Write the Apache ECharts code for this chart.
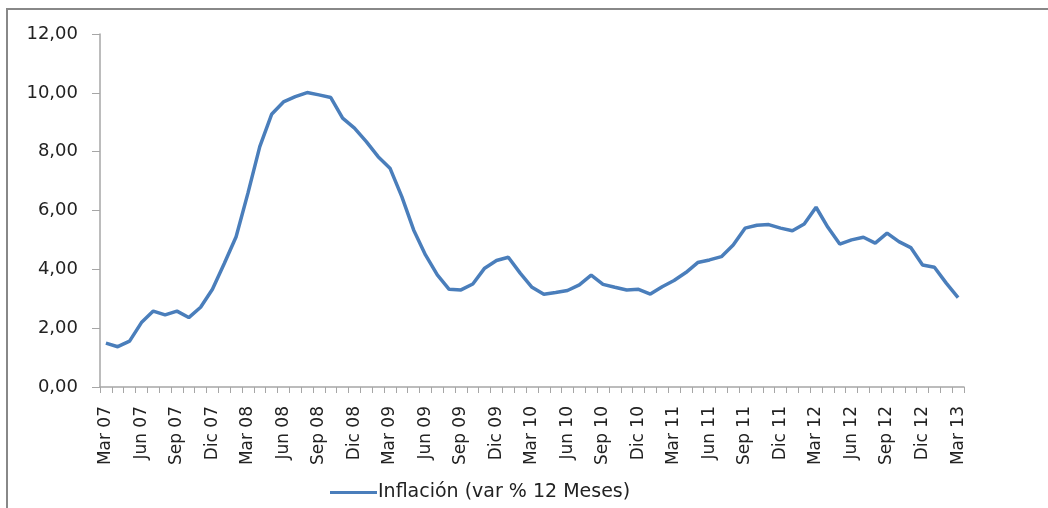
<!DOCTYPE html>
<html>
<head>
<meta charset="utf-8">
<script src="https://cdn.jsdelivr.net/npm/echarts@6/dist/echarts.min.js"></script>
<style>
html,body{margin:0;padding:0;background:#fff;}
#c{width:1048px;height:508px;}
</style>
</head>
<body>
<div id="c"></div>
<script>
const categories = [
 'Mar 07','Abr 07','May 07','Jun 07','Jul 07','Ago 07','Sep 07','Oct 07','Nov 07','Dic 07','Ene 08','Feb 08',
 'Mar 08','Abr 08','May 08','Jun 08','Jul 08','Ago 08','Sep 08','Oct 08','Nov 08','Dic 08','Ene 09','Feb 09',
 'Mar 09','Abr 09','May 09','Jun 09','Jul 09','Ago 09','Sep 09','Oct 09','Nov 09','Dic 09','Ene 10','Feb 10',
 'Mar 10','Abr 10','May 10','Jun 10','Jul 10','Ago 10','Sep 10','Oct 10','Nov 10','Dic 10','Ene 11','Feb 11',
 'Mar 11','Abr 11','May 11','Jun 11','Jul 11','Ago 11','Sep 11','Oct 11','Nov 11','Dic 11','Ene 12','Feb 12',
 'Mar 12','Abr 12','May 12','Jun 12','Jul 12','Ago 12','Sep 12','Oct 12','Nov 12','Dic 12','Ene 13','Feb 13',
 'Mar 13'
];
const inflacion = [
 1.49,1.37,1.56,2.19,2.58,2.45,2.58,2.36,2.71,3.32,4.20,5.11,
 6.59,8.17,9.27,9.69,9.87,10.01,9.93,9.84,9.14,8.80,8.34,7.83,
 7.44,6.47,5.34,4.49,3.81,3.32,3.30,3.50,4.04,4.30,4.41,3.87,
 3.39,3.15,3.21,3.28,3.47,3.80,3.49,3.39,3.30,3.32,3.16,3.41,
 3.62,3.89,4.23,4.32,4.43,4.83,5.40,5.50,5.52,5.40,5.31,5.54,
 6.11,5.43,4.86,5.00,5.09,4.89,5.23,4.94,4.74,4.15,4.07,3.53,
 3.04
];
const seriesName = 'Inflación (var % 12 Meses)';
const yMin = 0, yMax = 12, yStep = 2;

const chart = echarts.init(document.getElementById('c'), null, {renderer:'canvas'});
const axisGray = '#a6a6a6';
chart.setOption({
  animation: false,
  backgroundColor: '#ffffff',
  graphic: [{
    type: 'polyline',
    shape: { points: [[7, 520], [7, 9], [1060, 9]] },
    style: { stroke: '#888888', lineWidth: 2, fill: null },
    silent: true
  }],
  grid: { left: 100, right: 84, top: 34, bottom: 121, containLabel: false },
  legend: {
    left: 325, top: 478,
    itemWidth: 47, itemHeight: 14, itemGap: 10,
    icon: 'path://M0,6 L47,6 L47,9 L0,9 Z',
    textStyle: { fontFamily: 'DejaVu Sans', fontSize: 19, color: '#222222', padding: [0,0,0,-4] },
    data: [seriesName]
  },
  xAxis: {
    type: 'category',
    data: categories,
    boundaryGap: true,
    axisLine: { lineStyle: { color: axisGray, width: 1.5 } },
    axisTick: { show: true, interval: 0, length: 6, lineStyle: { color: axisGray, width: 1 } },
    axisLabel: {
      interval: 2, rotate: 90, margin: 19,
      fontFamily: 'DejaVu Sans', fontSize: 17, color: '#222222'
    },
    splitLine: { show: false }
  },
  yAxis: {
    type: 'value',
    min: yMin, max: yMax, interval: yStep,
    axisLine: { show: true, lineStyle: { color: axisGray, width: 1.5 } },
    axisTick: { show: true, length: 8, lineStyle: { color: axisGray, width: 1 } },
    axisLabel: {
      margin: 22,
      fontFamily: 'DejaVu Sans', fontSize: 18, color: '#222222',
      formatter: v => v.toFixed(2).replace('.', ',')
    },
    splitLine: { show: false }
  },
  series: [{
    name: seriesName,
    type: 'line',
    data: inflacion,
    symbol: 'none',
    smooth: false,
    lineStyle: { color: '#4a7ebb', width: 3.5 },
    itemStyle: { color: '#4a7ebb' }
  }]
});
</script>
</body>
</html>
